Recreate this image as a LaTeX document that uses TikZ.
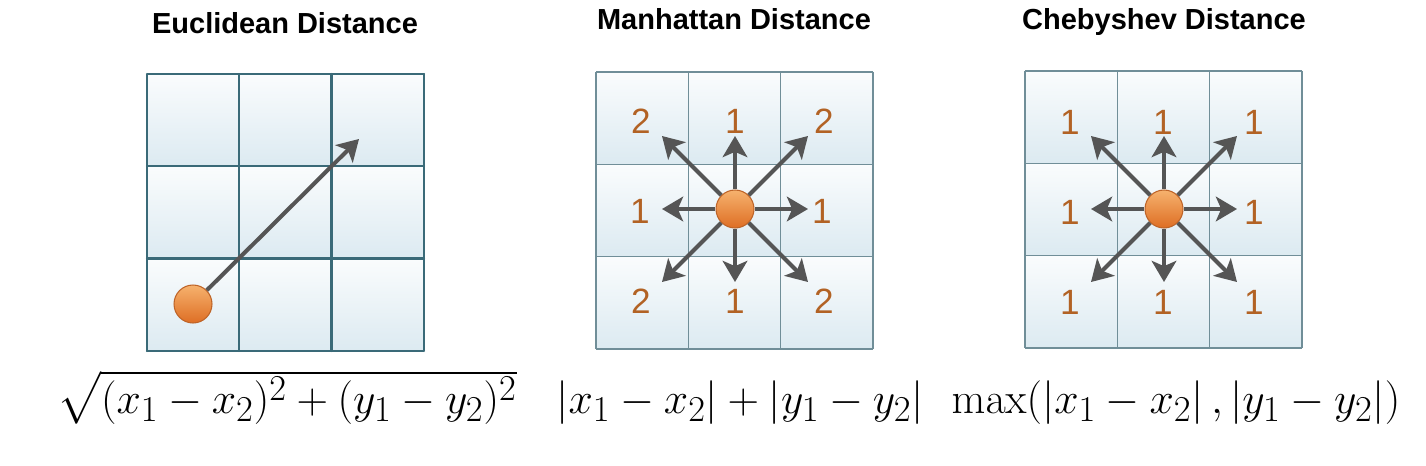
\documentclass[tikz,border=0pt]{standalone}
\usepackage[no-math]{fontspec}
\setmainfont{Liberation Sans}
\usepackage{amsmath}
\usetikzlibrary{arrows.meta, positioning, calc}
\definecolor{GridDark}{RGB}{58,106,120}
\definecolor{GridLight}{RGB}{112,142,152}
\definecolor{CellTop}{RGB}{250,252,253}
\definecolor{CellBot}{RGB}{220,234,241}
\definecolor{ArrowGray}{RGB}{85,85,85}
\definecolor{NumBrown}{RGB}{178,98,36}
\definecolor{BallTop}{RGB}{246,178,110}
\definecolor{BallBot}{RGB}{222,110,36}
\definecolor{BallEdge}{RGB}{190,100,40}

\begin{document}
\begin{tikzpicture}[x=0.02cm, y=-0.02cm,
          cell/.style={top color=CellTop, bottom color=CellBot},
          ball/.style={circle, minimum size=0.76cm, inner sep=0pt, draw=BallEdge,
                       line width=0.6pt, top color=BallTop, bottom color=BallBot},
          num/.style={font=\fontsize{20}{20}\selectfont, text=NumBrown, inner sep=0pt},
          heading/.style={font=\fontsize{16.5}{16.5}\selectfont\bfseries, anchor=base},
          formula/.style={font=\fontsize{28.5}{28.5}\selectfont, anchor=base, inner sep=0pt},
          arr/.style={-{Stealth[length=12pt, width=14pt, inset=3pt]}, line width=2.3pt, ArrowGray}
        ]
        \useasboundingbox (0,0) rectangle (1426,466);

        % Cells of the three grids
        \foreach \gx/\gy in {147/74, 596/72, 1025/71}
          \foreach \i in {0,1,2}
            \foreach \j in {0,1,2}
              \fill[cell] (\gx+\i*92.3, \gy+\j*92.3) rectangle ++(92.3,92.3);

        % Grid lines: Euclidean is heavier
        \foreach \k in {0,1,2,3} {
          \draw[GridDark, line width=1.3pt, line cap=round]
                (147+\k*92.3, 74) -- ++(0,276.9)
                (147, 74+\k*92.3) -- ++(276.9,0);
        }
        \foreach \gx/\gy in {596/72, 1025/71}
          \foreach \k in {0,1,2,3} {
            \draw[GridLight, line width=0.7pt]
                  (\gx+\k*92.3, \gy) -- ++(0,276.9)
                  (\gx, \gy+\k*92.3) -- ++(276.9,0);
          }

        % Headings
        \node[heading] (teuc) at (285, 34) {Euclidean Distance};
        \node[heading] (tman) at (734, 30) {Manhattan Distance};
        \node[heading] (tche) at (1164, 30) {Chebyshev Distance};

        % Euclidean
        \node[ball] (euc) at (193, 304) {};
        \coordinate (etip) at (359, 139);
        \draw[arr] (euc) -- (etip);

        % Manhattan
        \node[num] (m11) at (641, 121) {2};
        \node[num] (m12) at (735, 121) {1};
        \node[num] (m13) at (824, 121) {2};
        \node[num] (m21) at (640, 211) {1};
        \node[num] (m23) at (822, 211) {1};
        \node[num] (m31) at (641, 301) {2};
        \node[num] (m32) at (735, 301) {1};
        \node[num] (m33) at (824, 301) {2};
        \node[ball] (man) at (735, 209) {};

        % Chebyshev
        \foreach \cx/\cy [count=\n] in {1070/122, 1163/122, 1254/122,
                                         1070/212, 1254/212,
                                         1070/302, 1163/302, 1254/302}
          \node[num] (c\n) at (\cx, \cy) {1};
        \node[ball] (che) at (1164, 209) {};

        % Arrows out of the two centres
        \foreach \c in {man, che}
          \foreach \dx/\dy [count=\n] in {-1/-1, 0/-1, 1/-1, -1/0, 1/0, -1/1, 0/1, 1/1} {
            \coordinate (\c tip\n) at ($(\c.center)+(\dx*73,\dy*73)$);
            \draw[arr] (\c) -- (\c tip\n);
          }

        % Formulas
        \node[formula] (feuc) at (287, 413) {$\sqrt{(x_1-x_2)^2+(y_1-y_2)^2}$};
        \node[formula] (fman) at (740, 413) {$\left|x_1-x_2\right|+\left|y_1-y_2\right|$};
        \node[formula] (fche) at (1176, 413)
              {$\max(\left|x_1-x_2\right|,\left|y_1-y_2\right|)$};
      \end{tikzpicture}
\end{document}
